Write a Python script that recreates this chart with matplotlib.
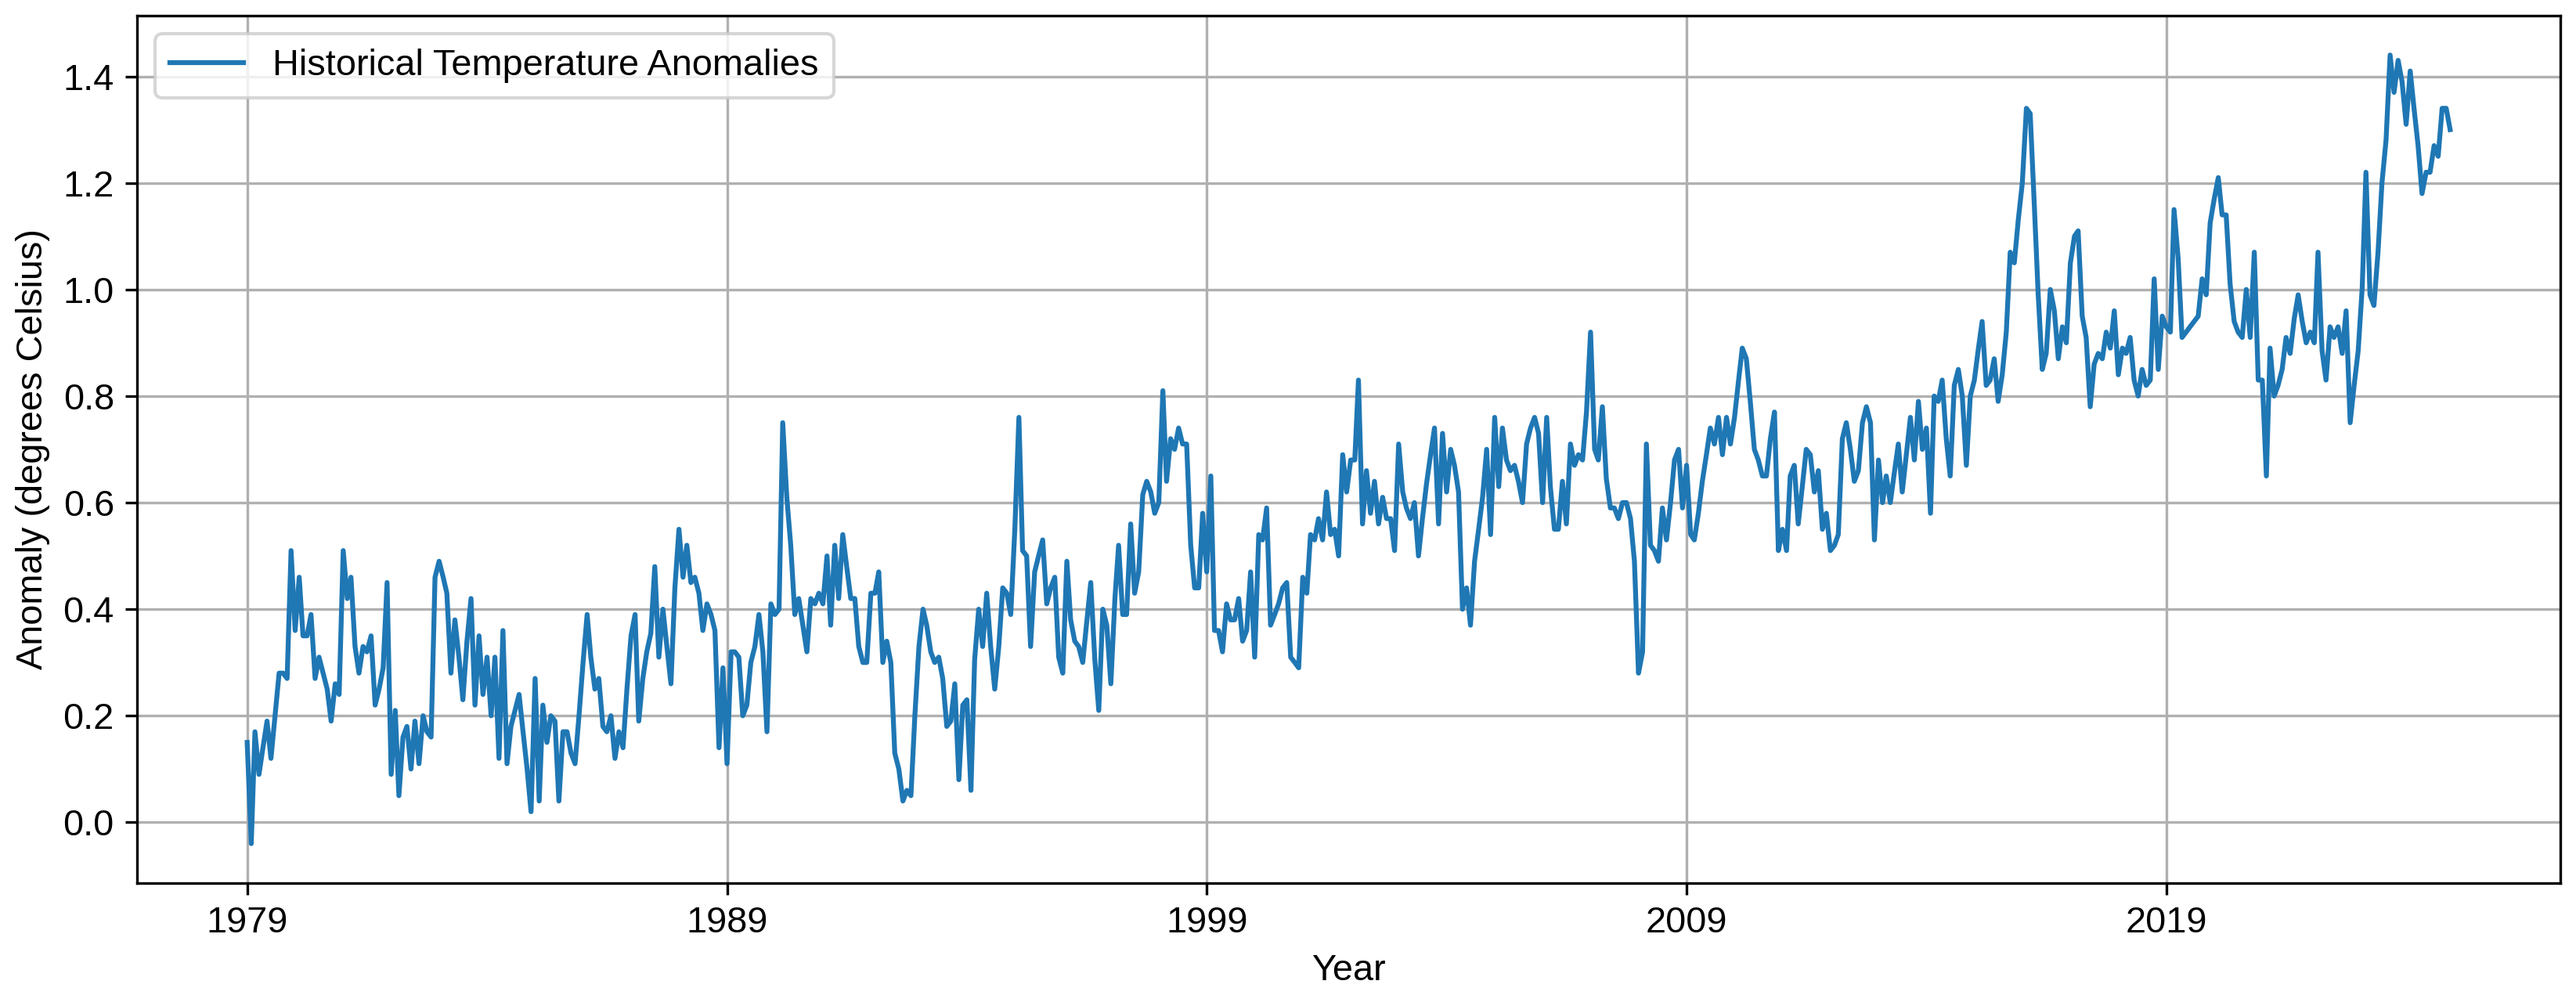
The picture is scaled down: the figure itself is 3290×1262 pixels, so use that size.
import numpy as np
import pandas as pd
import matplotlib
matplotlib.use('Agg')
import matplotlib.pyplot as plt

plt.rcParams['font.family'] = ['Liberation Sans', 'DejaVu Sans']
plt.rcParams['font.size'] = 11.25

start_month = '1979-01-01'
tick_years = [1979, 1989, 1999, 2009, 2019]

# monthly anomalies, one list per decade
anom_1979s = [0.15, -0.04, 0.17, 0.09, 0.14, 0.19, 0.12, 0.20, 0.28, 0.28, 0.27, 0.51,
              0.36, 0.46, 0.35, 0.35, 0.39, 0.27, 0.31, 0.28, 0.25, 0.19, 0.26, 0.24,
              0.51, 0.42, 0.46, 0.33, 0.28, 0.33, 0.32, 0.35, 0.22, 0.25, 0.29, 0.45,
              0.09, 0.21, 0.05, 0.16, 0.18, 0.10, 0.19, 0.11, 0.20, 0.17, 0.16, 0.46,
              0.49, 0.46, 0.43, 0.28, 0.38, 0.31, 0.23, 0.34, 0.42, 0.22, 0.35, 0.24,
              0.31, 0.20, 0.31, 0.12, 0.36, 0.11, 0.18, 0.21, 0.24, 0.17, 0.10, 0.02,
              0.27, 0.04, 0.22, 0.15, 0.20, 0.19, 0.04, 0.17, 0.17, 0.13, 0.11, 0.20,
              0.30, 0.39, 0.31, 0.25, 0.27, 0.18, 0.17, 0.20, 0.12, 0.17, 0.14, 0.25,
              0.35, 0.39, 0.19, 0.27, 0.32, 0.355, 0.48, 0.31, 0.40, 0.33, 0.26, 0.44,
              0.55, 0.46, 0.52, 0.45, 0.46, 0.43, 0.36, 0.41, 0.39, 0.36, 0.14, 0.29]
anom_1989s = [0.11, 0.32, 0.32, 0.31, 0.20, 0.22, 0.30, 0.33, 0.39, 0.32, 0.17, 0.41,
              0.39, 0.40, 0.75, 0.61, 0.52, 0.39, 0.42, 0.37, 0.32, 0.42, 0.41, 0.43,
              0.41, 0.50, 0.37, 0.52, 0.42, 0.54, 0.48, 0.42, 0.42, 0.33, 0.30, 0.30,
              0.43, 0.43, 0.47, 0.30, 0.34, 0.30, 0.13, 0.10, 0.04, 0.06, 0.05, 0.20,
              0.33, 0.40, 0.37, 0.32, 0.30, 0.31, 0.27, 0.18, 0.19, 0.26, 0.08, 0.22,
              0.23, 0.06, 0.305, 0.40, 0.33, 0.43, 0.33, 0.25, 0.33, 0.44, 0.43, 0.39,
              0.55, 0.76, 0.51, 0.50, 0.33, 0.47, 0.50, 0.53, 0.41, 0.44, 0.46, 0.31,
              0.28, 0.49, 0.38, 0.34, 0.33, 0.30, 0.375, 0.45, 0.305, 0.21, 0.40, 0.37,
              0.26, 0.42, 0.52, 0.39, 0.39, 0.56, 0.43, 0.47, 0.615, 0.64, 0.62, 0.58,
              0.60, 0.81, 0.64, 0.72, 0.70, 0.74, 0.71, 0.71, 0.52, 0.44, 0.44, 0.58]
anom_1999s = [0.47, 0.65, 0.36, 0.36, 0.32, 0.41, 0.38, 0.38, 0.42, 0.34, 0.36, 0.47,
              0.31, 0.54, 0.53, 0.59, 0.37, 0.39, 0.41, 0.44, 0.45, 0.31, 0.30, 0.29,
              0.46, 0.43, 0.54, 0.53, 0.57, 0.53, 0.62, 0.54, 0.55, 0.50, 0.69, 0.62,
              0.68, 0.68, 0.83, 0.56, 0.66, 0.58, 0.64, 0.56, 0.61, 0.57, 0.57, 0.51,
              0.71, 0.62, 0.59, 0.57, 0.60, 0.50, 0.57, 0.635, 0.69, 0.74, 0.56, 0.73,
              0.62, 0.70, 0.67, 0.62, 0.40, 0.44, 0.37, 0.49, 0.55, 0.61, 0.70, 0.54,
              0.76, 0.63, 0.74, 0.68, 0.66, 0.67, 0.64, 0.60, 0.71, 0.74, 0.76, 0.73,
              0.60, 0.76, 0.63, 0.55, 0.55, 0.64, 0.56, 0.71, 0.67, 0.69, 0.68, 0.77,
              0.92, 0.70, 0.68, 0.78, 0.645, 0.59, 0.59, 0.57, 0.60, 0.60, 0.57, 0.49,
              0.28, 0.32, 0.71, 0.52, 0.51, 0.49, 0.59, 0.53, 0.60, 0.68, 0.70, 0.59]
anom_2009s = [0.67, 0.54, 0.53, 0.58, 0.64, 0.69, 0.74, 0.71, 0.76, 0.69, 0.76, 0.71,
              0.76, 0.83, 0.89, 0.87, 0.79, 0.70, 0.68, 0.65, 0.65, 0.72, 0.77, 0.51,
              0.55, 0.51, 0.65, 0.67, 0.56, 0.63, 0.70, 0.69, 0.62, 0.66, 0.55, 0.58,
              0.51, 0.52, 0.54, 0.72, 0.75, 0.70, 0.64, 0.66, 0.75, 0.78, 0.75, 0.53,
              0.68, 0.60, 0.65, 0.60, 0.655, 0.71, 0.62, 0.69, 0.76, 0.68, 0.79, 0.70,
              0.74, 0.58, 0.80, 0.79, 0.83, 0.72, 0.65, 0.82, 0.85, 0.80, 0.67, 0.80,
              0.83, 0.89, 0.94, 0.82, 0.83, 0.87, 0.79, 0.84, 0.92, 1.07, 1.05, 1.13,
              1.20, 1.34, 1.33, 1.16, 0.99, 0.85, 0.88, 1.00, 0.96, 0.87, 0.93, 0.90,
              1.05, 1.10, 1.11, 0.95, 0.91, 0.78, 0.86, 0.88, 0.87, 0.92, 0.89, 0.96,
              0.84, 0.89, 0.88, 0.91, 0.83, 0.80, 0.85, 0.82, 0.83, 1.02, 0.85, 0.95]
anom_2019s = [0.93, 0.92, 1.15, 1.06, 0.91, 0.92, 0.93, 0.94, 0.95, 1.02, 0.99, 1.125,
              1.17, 1.21, 1.14, 1.14, 1.01, 0.94, 0.92, 0.91, 1.00, 0.91, 1.07, 0.83,
              0.83, 0.65, 0.89, 0.80, 0.82, 0.85, 0.91, 0.88, 0.945, 0.99, 0.94, 0.90,
              0.92, 0.90, 1.07, 0.885, 0.83, 0.93, 0.91, 0.93, 0.88, 0.96, 0.75, 0.82,
              0.885, 1.005, 1.22, 0.99, 0.97, 1.07, 1.20, 1.28, 1.44, 1.37, 1.43, 1.39,
              1.31, 1.41, 1.34, 1.27, 1.18, 1.22, 1.22, 1.27, 1.25, 1.34, 1.34, 1.30]

anomalies = np.array(anom_1979s + anom_1989s + anom_1999s + anom_2009s + anom_2019s)
dates = pd.date_range(start_month, periods=len(anomalies), freq='MS')

fig = plt.figure(figsize=(3290 / 300, 1262 / 300), dpi=300)
ax = fig.add_axes([0.0532, 0.1062, 0.9407, 0.878])

ax.plot(dates, anomalies, color='#1f77b4', linewidth=1.5,
        label='Historical Temperature Anomalies')

ax.set_xticks([pd.Timestamp(f'{y}-01-01') for y in tick_years])
ax.set_xticklabels([str(y) for y in tick_years])
ax.set_yticks(np.arange(0.0, 1.41, 0.2))

ax.set_xlabel('Year')
ax.set_ylabel('Anomaly (degrees Celsius)')
ax.grid(True)
ax.legend(loc='upper left')

fig.savefig('out.png', dpi=300)
